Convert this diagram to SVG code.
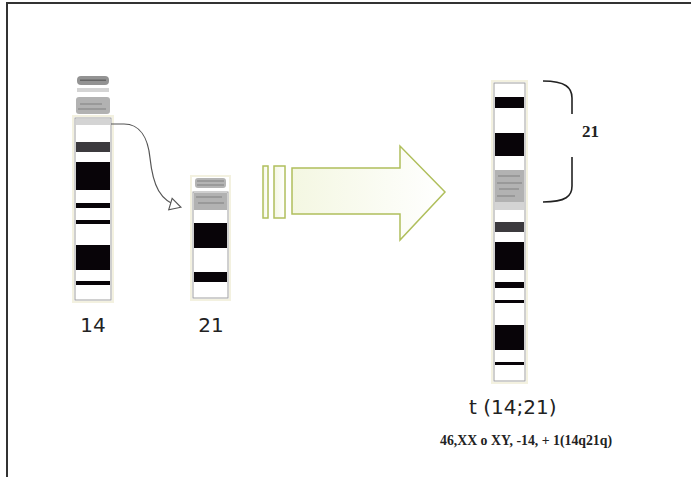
<svg xmlns="http://www.w3.org/2000/svg" width="691" height="477" viewBox="0 0 691 477">
  <defs>
    <style>
      .frame { fill: none; stroke: #333; stroke-width: 2; }
      .body { fill: #fff; stroke: #a0a0a0; stroke-width: 1; }
      .halo { fill: none; stroke: #f3f1e0; stroke-width: 2; }
      .blk { fill: #080408; }
      .dg { fill: #3c3a3e; }
      .gr { fill: #b2b2b2; }
      .lg { fill: #d4d4d4; }
      .stripe { stroke: #808080; stroke-width: 1; }
      .label { font-family: "DejaVu Sans", Verdana, sans-serif; font-size: 20px; fill: #222; }
      .serif { font-family: "Liberation Serif", "Times New Roman", serif; font-weight: bold; fill: #222; }
      .conn { fill: none; stroke: #555; stroke-width: 1.2; }
      .bracket { fill: none; stroke: #222; stroke-width: 1.6; }
      .big-arrow { fill: url(#arrowFill); stroke: #b0bf5c; stroke-width: 1.5; }
    </style>
    <linearGradient id="arrowFill" x1="0" y1="0" x2="1" y2="0">
      <stop offset="0" stop-color="#f4f7e2"/>
      <stop offset="1" stop-color="#ffffff"/>
    </linearGradient>
    <marker id="openTri" markerWidth="14" markerHeight="14" refX="11" refY="7" orient="auto" markerUnits="userSpaceOnUse">
      <path d="M1,1 L12,7 L1,13 Z" fill="#fff" stroke="#555" stroke-width="1.1"/>
    </marker>
  </defs>

  <!-- page frame -->
  <path class="frame" d="M7,477 V3 H691"/>

  <!-- chromosome 14 -->
  <g id="chr14">
    <rect class="halo" x="73" y="116" width="40" height="186"/>
    <rect class="body" x="75" y="118" width="36" height="182"/>
    <rect x="77" y="76" width="32" height="9" rx="4" fill="#939393"/>
    <rect x="80" y="79.5" width="26" height="1.5" fill="#666"/>
    <rect class="lg" x="77" y="88" width="32" height="4"/>
    <rect class="gr" x="76" y="97" width="34" height="17" rx="3"/>
    <line class="stripe" x1="80" y1="104" x2="102" y2="104"/>
    <line class="stripe" x1="78" y1="109" x2="106" y2="109"/>
    <rect class="lg" x="76" y="119" width="34" height="6"/>
    <rect class="dg" x="76" y="142" width="34" height="10"/>
    <rect class="blk" x="76" y="162" width="34" height="28"/>
    <rect class="blk" x="76" y="203" width="34" height="5"/>
    <rect class="blk" x="76" y="220" width="34" height="4"/>
    <rect class="blk" x="76" y="245" width="34" height="25"/>
    <rect class="blk" x="76" y="281" width="34" height="4"/>
    <text class="label" x="93" y="332" text-anchor="middle">14</text>
  </g>

  <!-- chromosome 21 -->
  <g id="chr21">
    <rect class="halo" x="191" y="176" width="39" height="124"/>
    <rect x="195" y="178" width="31" height="10" rx="3" fill="#b4b4b4"/>
    <line class="stripe" x1="197" y1="181" x2="224" y2="181"/>
    <line class="stripe" x1="197" y1="185" x2="224" y2="185"/>
    <rect class="body" x="193" y="192" width="35" height="106"/>
    <rect class="gr" x="194" y="193" width="33" height="17"/>
    <line class="stripe" x1="196" y1="197" x2="222" y2="197"/>
    <line class="stripe" x1="198" y1="203" x2="224" y2="203"/>
    <rect class="blk" x="194" y="223" width="33" height="25"/>
    <rect class="blk" x="194" y="272" width="33" height="10"/>
    <text class="label" x="211" y="332" text-anchor="middle">21</text>
  </g>

  <!-- fused chromosome t(14;21) -->
  <g id="chrT">
    <rect class="halo" x="492" y="81" width="35" height="302"/>
    <rect class="body" x="494" y="83" width="31" height="298"/>
    <rect class="blk" x="495" y="97" width="29" height="11"/>
    <rect class="blk" x="495" y="133" width="29" height="23"/>
    <rect class="gr" x="495" y="170" width="29" height="32"/>
    <line class="stripe" x1="498" y1="176" x2="520" y2="176"/>
    <line class="stripe" x1="497" y1="183" x2="522" y2="183"/>
    <line class="stripe" x1="499" y1="189" x2="519" y2="189"/>
    <line class="stripe" x1="497" y1="196" x2="515" y2="196"/>
    <rect class="lg" x="495" y="202" width="29" height="8"/>
    <rect class="dg" x="495" y="222" width="29" height="10"/>
    <rect class="blk" x="495" y="242" width="29" height="28"/>
    <rect class="blk" x="495" y="282" width="29" height="6"/>
    <rect class="blk" x="495" y="300" width="29" height="3"/>
    <rect class="blk" x="495" y="325" width="29" height="25"/>
    <rect class="blk" x="495" y="362" width="29" height="3"/>
    <text class="label" x="469" y="414">t (14;21)</text>
  </g>

  <!-- bracket marking the 21 segment -->
  <g id="bracket21">
    <path class="bracket" d="M543,81 C566,81 572,88 572,98 V114"/>
    <path class="bracket" d="M572,157 V186 C572,196 566,202 543,202"/>
    <text class="serif" x="582" y="137" font-size="17">21</text>
  </g>

  <!-- karyotype formula -->
  <g id="formula">
    <text class="serif" x="440" y="445" font-size="15" textLength="172" lengthAdjust="spacingAndGlyphs">46,XX o XY, -14, + 1(14q21q)</text>
  </g>

  <!-- big translocation arrow -->
  <g id="bigArrow">
    <rect class="big-arrow" x="263" y="166" width="5" height="52"/>
    <rect class="big-arrow" x="274" y="166" width="11" height="52"/>
    <path class="big-arrow" d="M292,168 H400 V146 L445,192 L400,240 V214 H292 Z"/>
  </g>

  <!-- connectors -->
  <g id="connectors">
    <path class="conn" marker-end="url(#openTri)" d="M111,124 H124 C140,124 148,138 150,158 C153,186 160,201 180,207"/>
  </g>
</svg>
